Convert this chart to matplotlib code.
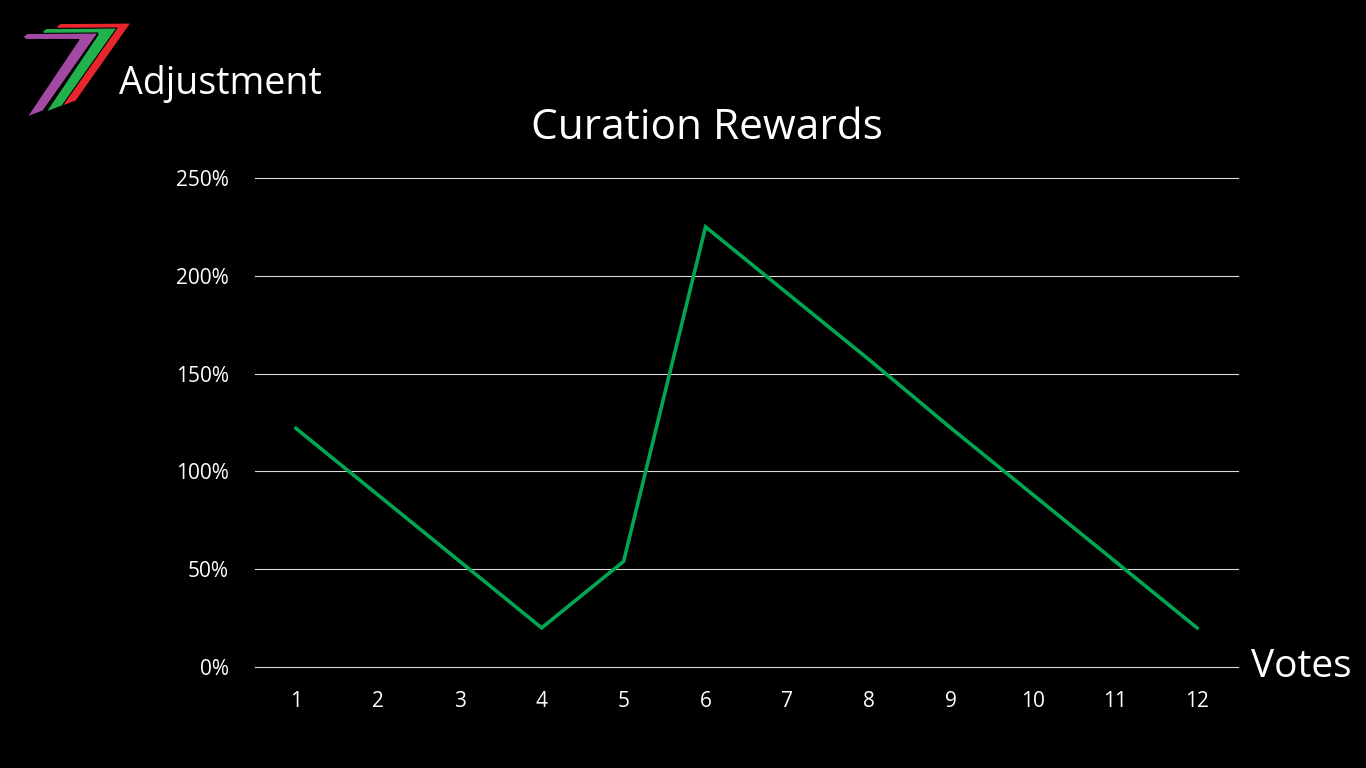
import matplotlib.pyplot as plt
from matplotlib.patches import Polygon

plt.rcParams['font.family'] = ['Open Sans', 'DejaVu Sans']

# Data
votes = [1, 2, 3, 4, 5, 6, 7, 8, 9, 10, 11, 12]
rewards = [122, 88, 54, 20, 54, 225, 191, 157, 122, 88, 54, 20]
yticks = [0, 50, 100, 150, 200, 250]

W, H = 1366, 768
fig = plt.figure(figsize=(W / 100, H / 100), dpi=100, facecolor='black')

ax = fig.add_axes([255 / W, 1 - 667 / H, 983 / W, 489 / H], facecolor='black')
ax.plot(votes, rewards, color='#00A650', lw=2.6, solid_joinstyle='miter')
ax.set_xlim(0.5, 12.5)
ax.set_ylim(0, 250)
ax.set_xticks(votes)
ax.set_yticks(yticks)
ax.set_yticklabels([f'{v}%' for v in yticks])
ax.yaxis.grid(True, color='#D9D9D9', lw=0.8)
for gl in ax.get_ygridlines():
    gl.set_clip_on(False)
ax.set_axisbelow(True)
for s in ax.spines.values():
    s.set_visible(False)
ax.tick_params(length=0, colors='white', labelsize=15)
ax.tick_params(axis='x', pad=17)
ax.tick_params(axis='y', pad=19)

fig.text(707 / W, 1 - 128 / H, 'Curation Rewards', color='white', fontsize=30.5,
         ha='center', va='center')
fig.text(1251 / W, 1 - 667 / H, 'Votes', color='white', fontsize=28,
         ha='left', va='center')
fig.text(119 / W, 1 - 84 / H, 'Adjustment', color='white', fontsize=27,
         ha='left', va='center')

# "7" logo: three stacked shapes (pixel coords, y down)
shape = [(23, 37), (27, 33.5), (98, 33), (43, 111), (27, 117), (79, 39.5), (26, 39.5)]
for dx, dy, col in [(33, -10, '#E8262B'), (19, -5, '#22B24C'), (0, 0, '#A349A4')]:
    pts = [((x + dx) / W, 1 - (y + dy) / H) for x, y in shape]
    fig.patches.append(Polygon(pts, closed=True, transform=fig.transFigure,
                               facecolor=col, edgecolor='black', lw=0.8))

fig.savefig('out.png', dpi=100, facecolor='black')
